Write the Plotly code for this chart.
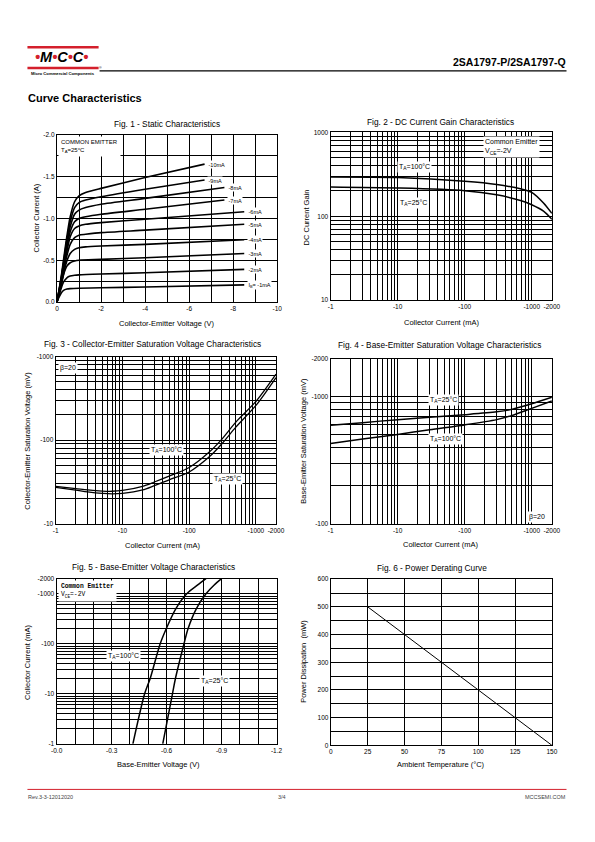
import math
import plotly.graph_objects as go

W, H = 595, 842
FONT = "Liberation Sans, Arial, sans-serif"

# ---------------- DATA ----------------
# Fig 1 - Static characteristics (|VCE| in V, |IC| in A), per base current
fig1_ib_labels = ["-10mA", "-9mA", "-8mA", "-7mA", "-6mA", "-5mA", "-4mA", "-3mA", "-2mA", "I<sub>B</sub>= -1mA"]
fig1_vce = [
    [0, 0.2, 0.4, 0.6, 0.8, 1.0, 1.3, 2, 4, 6.7],
    [0, 0.2, 0.4, 0.6, 0.8, 1.0, 1.3, 2, 4, 6.7],
    [0, 0.2, 0.4, 0.6, 0.8, 1.0, 1.3, 2, 4, 7.6],
    [0, 0.2, 0.4, 0.6, 0.8, 1.0, 1.3, 2, 4, 7.6],
    [0, 0.2, 0.4, 0.6, 0.8, 1.0, 1.3, 2, 4, 8.5],
    [0, 0.2, 0.4, 0.6, 0.8, 1.0, 1.3, 2, 4, 8.5],
    [0, 0.2, 0.4, 0.6, 0.8, 1.0, 1.3, 2, 4, 8.5],
    [0, 0.15, 0.3, 0.45, 0.6, 0.8, 1.0, 2, 4, 8.5],
    [0, 0.15, 0.3, 0.45, 0.6, 0.8, 1.0, 2, 4, 8.5],
    [0, 0.1, 0.2, 0.3, 0.45, 0.6, 1.0, 2, 4, 8.5],
]
fig1_ic = [
    [0, 0.32, 0.70, 1.02, 1.20, 1.27, 1.31, 1.36, 1.49, 1.65],
    [0, 0.30, 0.66, 0.96, 1.13, 1.19, 1.22, 1.26, 1.35, 1.46],
    [0, 0.29, 0.62, 0.90, 1.05, 1.10, 1.13, 1.17, 1.24, 1.37],
    [0, 0.27, 0.58, 0.84, 0.96, 1.00, 1.02, 1.05, 1.11, 1.22],
    [0, 0.25, 0.54, 0.78, 0.88, 0.91, 0.93, 0.95, 0.99, 1.08],
    [0, 0.23, 0.50, 0.69, 0.77, 0.80, 0.81, 0.83, 0.86, 0.93],
    [0, 0.21, 0.45, 0.58, 0.63, 0.65, 0.66, 0.67, 0.69, 0.745],
    [0, 0.17, 0.33, 0.43, 0.47, 0.49, 0.50, 0.51, 0.53, 0.58],
    [0, 0.13, 0.24, 0.29, 0.31, 0.32, 0.325, 0.335, 0.35, 0.39],
    [0, 0.06, 0.11, 0.14, 0.155, 0.16, 0.165, 0.17, 0.18, 0.205],
]

# Fig 2 - DC current gain vs |IC| (mA)
fig2_ic = [1, 10, 100, 300, 700, 1000, 1500, 2000]
fig2_hfe_100 = [294, 289, 261, 239, 211, 193, 144, 108]
fig2_hfe_25 = [223, 217, 202, 180, 153, 137, 115, 92]

# Fig 3 - VCE(sat) (mV) vs |IC| (mA)
fig3_ic = [1, 2, 3, 5, 7, 10, 20, 30, 50, 100, 200, 300, 500, 1000, 2000]
fig3_vce_100 = [28.0, 26.3, 25.3, 24.5, 24.4, 25.0, 28.0, 31.5, 37.0, 47.0, 72.0, 100, 164, 290, 615]
fig3_vce_25 = [27.2, 25.2, 24.0, 23.0, 22.7, 23.0, 25.3, 28.5, 33.5, 41.5, 63.0, 88, 143, 260, 561]

# Fig 4 - VBE(sat) (mV) vs |IC| (mA)
fig4_ic = [1, 3, 10, 30, 100, 300, 500, 1000, 2000]
fig4_vbe_25 = [595, 625, 660, 690, 722, 760, 795, 880, 990]
fig4_vbe_100 = [428, 465, 505, 550, 600, 660, 710, 810, 925]

# Fig 5 - |IC| (mA) vs |VBE| (V)
fig5_ic = [1, 10, 20, 100, 200, 500, 1000, 1500, 2000]
fig5_vbe_100 = [0.416, 0.48, 0.51, 0.565, 0.598, 0.65, 0.71, 0.77, 0.815]
fig5_vbe_25 = [0.579, 0.632, 0.648, 0.695, 0.717, 0.762, 0.815, 0.86, 0.90]

# Fig 6 - Power derating
fig6_temp = [25, 150]
fig6_pd = [500, 0]

# tick / grid definitions
log_1_2000 = [m * 10 ** e for e in range(3) for m in range(1, 10)] + [1000, 2000]
log_10_1000 = [m * 10 ** e for e in range(1, 3) for m in range(1, 10)] + [1000]
log_100_2000 = [m * 100 for m in range(1, 10)] + [1000, 2000]
lab_1_2000 = [1, 10, 100, 1000, 2000]
lab_10_1000 = [10, 100, 1000]
lab_100_2000 = [100, 1000, 2000]


# ---------------- helpers ----------------
def xd(a, b):
    return [a / W, b / W]


def yd(t, b):
    return [1 - b / H, 1 - t / H]


def px(x, y):
    return x / W, 1 - y / H


def axis(domain, anchor, rng, labvals, labtext, gridvals, typ="linear"):
    return dict(
        domain=domain, anchor=anchor, type=typ, range=rng,
        tickmode="array", tickvals=labvals, ticktext=labtext,
        showgrid=True, gridcolor="black", gridwidth=1,
        minor=dict(tickmode="array", tickvals=[g for g in gridvals if g not in labvals],
                   showgrid=True, gridcolor="black", gridwidth=1, ticks=""),
        showline=True, linecolor="black", linewidth=1.3, mirror=True,
        ticks="", zeroline=False, fixedrange=True,
        tickfont=dict(family=FONT, size=6.5, color="black"),
    )


fig = go.Figure()

# Fig 1 traces
for v, i in zip(fig1_vce, fig1_ic):
    fig.add_trace(go.Scatter(x=v, y=i, mode="lines", xaxis="x", yaxis="y",
                             line=dict(color="black", width=1.6, shape="spline", smoothing=0.6)))
# Fig 2
for y in (fig2_hfe_100, fig2_hfe_25):
    fig.add_trace(go.Scatter(x=fig2_ic, y=y, mode="lines", xaxis="x2", yaxis="y2",
                             line=dict(color="black", width=1.5, shape="spline", smoothing=0.8)))
# Fig 3
for y in (fig3_vce_100, fig3_vce_25):
    fig.add_trace(go.Scatter(x=fig3_ic, y=y, mode="lines", xaxis="x3", yaxis="y3",
                             line=dict(color="black", width=1.3, shape="spline", smoothing=0.8)))
# Fig 4
for y in (fig4_vbe_25, fig4_vbe_100):
    fig.add_trace(go.Scatter(x=fig4_ic, y=y, mode="lines", xaxis="x4", yaxis="y4",
                             line=dict(color="black", width=1.5, shape="spline", smoothing=0.8)))
# Fig 5
for v in (fig5_vbe_100, fig5_vbe_25):
    fig.add_trace(go.Scatter(x=v, y=fig5_ic, mode="lines", xaxis="x5", yaxis="y5",
                             line=dict(color="black", width=1.5, shape="spline", smoothing=0.8)))
# Fig 6
fig.add_trace(go.Scatter(x=fig6_temp, y=fig6_pd, mode="lines", xaxis="x6", yaxis="y6",
                         line=dict(color="black", width=1)))

L2000 = math.log10(2000)
lay = dict(
    width=W, height=H, margin=dict(l=0, r=0, t=0, b=0),
    paper_bgcolor="white", plot_bgcolor="white", showlegend=False,
    font=dict(family=FONT, color="black"),
)
# Fig 1 axes
f1x = list(range(0, 11))
f1lab = [0, 2, 4, 6, 8, 10]
lay["xaxis"] = axis(xd(52.3, 278.3), "y", [0, 10], f1lab, ["0" if v == 0 else "-%d" % v for v in f1lab], f1x)
f1y = [0, 0.25, 0.5, 0.75, 1.0, 1.25, 1.5, 1.75, 2.0]
f1ylab = [0, 0.5, 1.0, 1.5, 2.0]
lay["yaxis"] = axis(yd(132, 300.5), "x", [0, 2], f1ylab, ["0.0", "-0.5", "-1.0", "-1.5", "-2.0"], f1y)
neg = lambda vals: ["-%g" % v for v in vals]
# Fig 2 axes
lay["xaxis2"] = axis(xd(333, 560), "y2", [0, L2000], lab_1_2000, neg(lab_1_2000), log_1_2000, "log")
lay["yaxis2"] = axis(yd(129.5, 298.5), "x2", [1, 3], lab_10_1000, ["%g" % v for v in lab_10_1000], log_10_1000, "log")
# Fig 3 axes
lay["xaxis3"] = axis(xd(51, 277), "y3", [0, L2000], lab_1_2000, neg(lab_1_2000), log_1_2000, "log")
lay["yaxis3"] = axis(yd(355.5, 524), "x3", [1, 3], lab_10_1000, neg(lab_10_1000), log_10_1000, "log")
# Fig 4 axes
lay["xaxis4"] = axis(xd(333, 560), "y4", [0, L2000], lab_1_2000, neg(lab_1_2000), log_1_2000, "log")
lay["yaxis4"] = axis(yd(357.5, 524), "x4", [2, L2000], lab_100_2000, neg(lab_100_2000), log_100_2000, "log")
# Fig 5 axes
f5x = [round(0.1 * k, 1) for k in range(13)]
f5lab = [0.0, 0.3, 0.6, 0.9, 1.2]
lay["xaxis5"] = axis(xd(52, 277.5), "y5", [0, 1.2], f5lab, ["-%.1f" % v for v in f5lab], f5x)
lay["yaxis5"] = axis(yd(579.5, 746), "x5", [0, L2000], lab_1_2000, neg(lab_1_2000), log_1_2000, "log")
# Fig 6 axes
f6x = [0, 25, 50, 75, 100, 125, 150]
lay["xaxis6"] = axis(xd(333.3, 560), "y6", [0, 150], f6x, [str(v) for v in f6x], f6x)
f6y = list(range(0, 601, 50))
f6ylab = list(range(0, 601, 100))
lay["yaxis6"] = axis(yd(580, 747.5), "x6", [0, 600], f6ylab, [str(v) for v in f6ylab], f6y)

annots = []


def txt(x, y, text, size=7.5, xanchor="center", yanchor="middle", angle=0, bg=None, bold=False,
        family=FONT, color="black", align="left", pad=0):
    ax_, ay_ = px(x, y)
    d = dict(x=ax_, y=ay_, xref="paper", yref="paper", text=("<b>%s</b>" % text) if bold else text,
             showarrow=False, xanchor=xanchor, yanchor=yanchor, textangle=angle, align=align,
             font=dict(family=family, size=size, color=color), borderpad=pad)
    if bg:
        d["bgcolor"] = bg
    annots.append(d)


# Titles
txt(165, 121, "Fig. 1 - Static Characteristics", 8.3)
txt(446, 119, "Fig. 2 - DC Current Gain Characteristics", 8.3)
txt(150, 343, "Fig. 3 - Collector-Emitter Saturation Voltage Characteristics", 8.3)
txt(445, 344, "Fig. 4 - Base-Emitter Saturation Voltage Characteristics", 8.3)
txt(151, 568, "Fig. 5 - Base-Emitter Voltage Characteristics", 8.3)
txt(437, 569, "Fig. 6 - Power Derating Curve", 8.3)
# Axis titles
txt(165, 322, "Collector-Emitter Voltage (V)", 7.5)
txt(31, 216, "Collector Current (A)", 7.5, angle=-90)
txt(447, 321, "Collector Current (mA)", 7.5)
txt(308, 215, "DC Current Gain", 7.5, angle=-90)
txt(161, 546, "Collector Current (mA)", 7.5)
txt(22, 440, "Collector-Emitter Saturation Voltage (mV)", 7.5, angle=-90)
txt(446, 545, "Collector Current (mA)", 7.5)
txt(305, 440, "Base-Emitter Saturation Voltage (mV)", 7.5, angle=-90)
txt(156, 767, "Base-Emitter Voltage (V)", 7.5)
txt(22, 663, "Collector Current (mA)", 7.5, angle=-90)
txt(446, 767, "Ambient Temperature (°C)", 7.5)
txt(305, 663, "Power Dissipation  (mW)", 7.5, angle=-90)

# Fig 1 in-plot labels
txt(53.5, 133, "COMMON EMITTER<br>T<sub>A</sub>=25°C", 6, xanchor="left", yanchor="top", bg="white", pad=2)
x0f1, kx = 52.3, 22.6
y0f1, ky = 300.5, 84.25
for lab, v, i in zip(fig1_ib_labels, fig1_vce, fig1_ic):
    ex = x0f1 + (v[-1] + 0.12) * kx
    ey = y0f1 - i[-1] * ky
    txt(ex, ey, lab, 5.5, xanchor="left", bg="white", pad=0.5)

# Fig 2 labels
txt(489, 133, "Common Emitter<br>V<sub>CE</sub>=-2V", 7, xanchor="left", yanchor="top", bg="white", pad=1)
txt(401, 164, "T<sub>A</sub>=100°C", 7, xanchor="left", bg="white", pad=1)
txt(402, 201, "T<sub>A</sub>=25°C", 7, xanchor="left", bg="white", pad=1)
# Fig 3 labels
txt(53, 367, "β=20", 7, xanchor="left", bg="white", pad=1)
txt(147, 450, "T<sub>A</sub>=100°C", 7, xanchor="left", bg="white", pad=1)
txt(211, 479, "T<sub>A</sub>=25°C", 7, xanchor="left", bg="white", pad=1)
# Fig 4 labels
txt(433, 399, "T<sub>A</sub>=25°C", 7, xanchor="left", bg="white", pad=1)
txt(433, 439, "T<sub>A</sub>=100°C", 7, xanchor="left", bg="white", pad=1)
txt(534, 517, "β=20", 7, xanchor="left", bg="white", pad=1)
# Fig 5 labels
txt(53, 581, "<b>Common Emitter</b><br>V<sub>CE</sub>=-2V", 6.3, xanchor="left", yanchor="top", bg="white", pad=2,
    family="Liberation Mono, Courier New, monospace")
txt(103, 657, "T<sub>A</sub>=100°C", 7, xanchor="left", bg="white", pad=1)
txt(198, 683, "T<sub>A</sub>=25°C", 7, xanchor="left", bg="white", pad=1)

# Header
RED = "#d4202c"
dot = "<span style='color:%s'>•</span>" % RED
txt(57, 53.5, "<b><i>%sM%sC%sC%s</i></b>" % (dot, dot, dot, dot), 14.5)
txt(58, 70.2, "<b>Micro Commercial Components</b>", 4.2)
txt(96.5, 64.5, "®", 3.5)
txt(575, 58.5, "<b>2SA1797-P/2SA1797-Q</b>", 10.5, xanchor="right")
txt(22, 95, "<b>Curve Characteristics</b>", 11, xanchor="left")
# Footer
txt(22, 800, "Rev.3-3-12012020", 5.5, xanchor="left", color="#444")
txt(283, 800, "3/4", 5.5, color="#444")
txt(575, 800, "MCCSEMI.COM", 5.5, xanchor="right", color="#444")

shapes = []


def hline(x0, x1, y, color, w):
    a0, b = px(x0, y)
    a1, _ = px(x1, y)
    shapes.append(dict(type="line", xref="paper", yref="paper", x0=a0, x1=a1, y0=b, y1=b,
                       line=dict(color=color, width=w)))


hline(22, 95, 43.5, RED, 2.5)
hline(22, 95, 64.5, RED, 2.5)
hline(96, 575, 67.5, "black", 1.2)
hline(22, 575, 792, RED, 1)

lay["annotations"] = annots
lay["shapes"] = shapes
fig.update_layout(**lay)
fig.write_html("out.html", config={"displayModeBar": False},
               post_script="document.body.style.margin='0';document.body.style.overflow='hidden';")
